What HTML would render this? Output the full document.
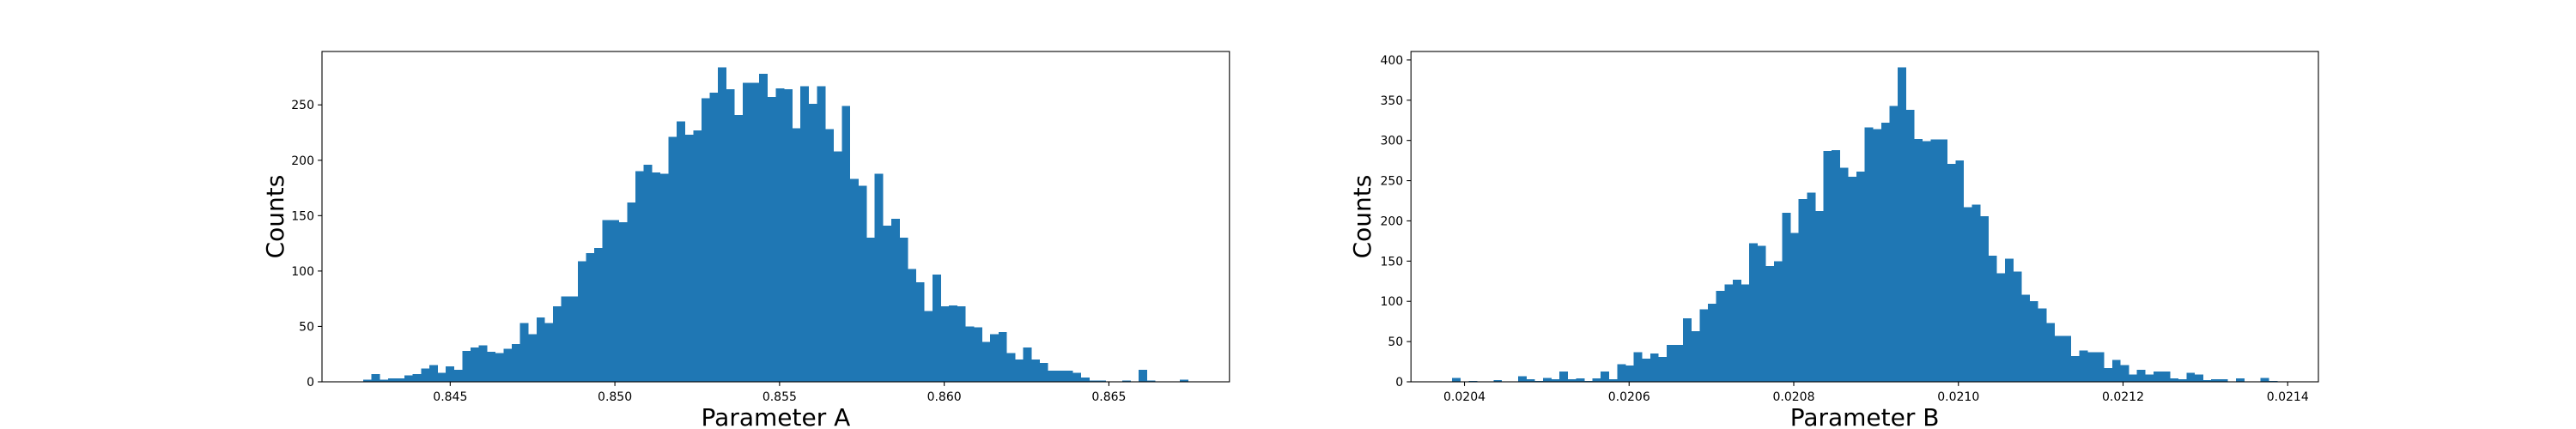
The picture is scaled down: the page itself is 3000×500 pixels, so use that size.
<!DOCTYPE html>
<html><head><meta charset="utf-8"><style>
html,body{margin:0;padding:0;background:#fff;}
svg{display:block;font-family:"DejaVu Sans","Liberation Sans",sans-serif;}
</style></head><body>
<svg id="fig" width="3000" height="500" viewBox="0 0 3000 500" xmlns="http://www.w3.org/2000/svg">
<rect width="3000" height="500" fill="#fff"/>
</svg>
<script>
const countsA = [2,7,2,3,3,6,7,12,15,8,14,11,28,31,33,27,26,30,34,53,43,58,53,68,77,77,109,116,121,146,146,144,162,190,196,189,188,221,235,223,227,256,261,284,264,241,270,270,278,257,265,264,229,267,251,267,228,208,249,183,177,130,188,141,147,130,102,90,64,97,68,69,68,50,49,36,43,45,26,20,31,20,17,10,10,10,8,4,1,1,0,0,1,0,11,1,0,0,0,2];
const rangeA = [0.842359, 0.867408];
const xTicksA = [0.845,0.850,0.855,0.860,0.865];
const xTickLabelsA = ["0.845","0.850","0.855","0.860","0.865"];
const yTicksA = [0,50,100,150,200,250];

const countsB = [5,0,1,0,0,2,0,0,7,3,1,5,3,13,3,4,1,4,13,3,22,20,37,29,35,31,46,46,79,63,90,97,113,121,127,121,172,169,144,150,210,185,227,235,212,287,288,266,255,261,316,314,322,343,391,338,302,299,301,301,271,275,217,220,206,157,135,153,137,108,100,91,73,57,57,32,39,37,37,17,27,21,9,15,9,13,13,4,3,11,9,2,3,3,0,4,0,0,5,1];
const rangeB = [0.0203851, 0.0213872];
const xTicksB = [0.0204,0.0206,0.0208,0.0210,0.0212,0.0214];
const xTickLabelsB = ["0.0204","0.0206","0.0208","0.0210","0.0212","0.0214"];
const yTicksB = [0,50,100,150,200,250,300,350,400];

const NS = "http://www.w3.org/2000/svg";
const svg = document.getElementById('fig');
function mk(tag, attrs, parent){
  const e = document.createElementNS(NS, tag);
  for (const k in attrs) e.setAttribute(k, attrs[k]);
  (parent||svg).appendChild(e);
  return e;
}

function drawHist(cfg){
  const L = cfg.left, R = cfg.right, T = 60, B = 445;
  const counts = cfg.counts;
  const dmin = cfg.range[0], dmax = cfg.range[1];
  const span = dmax - dmin;
  const xmin = dmin - 0.05*span, xmax = dmax + 0.05*span;
  const ymax = Math.max(...counts) * 1.05;
  const xs = v => L + (v - xmin) / (xmax - xmin) * (R - L);
  const ys = v => B - v / ymax * (B - T);

  const g = mk('g', {});
  
  

  const bw = span / counts.length;
  const bars = mk('g', {fill:'#1f77b4', 'shape-rendering':'crispEdges'}, g);
  
  
  counts.forEach((c, i) => {
    if (c <= 0) return;
    const x0 = xs(dmin + i*bw), x1 = xs(dmin + (i+1)*bw);
    const r = mk('rect', {x:x0, y:ys(c), width:x1-x0+0.3, height:B-ys(c)}, bars);
    
    
  });

  const frame = mk('rect', {x:L, y:T, width:R-L, height:B-T, fill:'none', stroke:'#000', 'stroke-width':1.1}, g);
  
  

  cfg.xTicks.forEach((v, i) => {
    const x = xs(v);
    mk('line', {x1:x, x2:x, y1:B, y2:B+4.9, stroke:'#000', 'stroke-width':1.1}, g);
    const t = mk('text', {x:x, y:B+22, 'font-size':14, 'text-anchor':'middle', fill:'#000'}, g);
    t.textContent = cfg.xTickLabels[i];
    
    
  });
  cfg.yTicks.forEach(v => {
    const y = ys(v);
    mk('line', {x1:L-4.9, x2:L, y1:y, y2:y, stroke:'#000', 'stroke-width':1.1}, g);
    const t = mk('text', {x:L-9, y:y+5, 'font-size':14, 'text-anchor':'end', fill:'#000'}, g);
    t.textContent = String(v);
    
    
  });

  const xl = mk('text', {x:(L+R)/2, y:496, 'font-size':28, 'text-anchor':'middle', fill:'#000'}, g);
  xl.textContent = cfg.xlabel;
  
  

  const cx = cfg.ylabelX, cy = (T+B)/2;
  const yl = mk('text', {x:cx, y:cy, 'font-size':28, 'text-anchor':'middle', fill:'#000', transform:'rotate(-90 '+cx+' '+cy+')'}, g);
  yl.textContent = 'Counts';
  
  
}

drawHist({name:'parameter-a', left:375, right:1431.8, counts:countsA, range:rangeA,
  xTicks:xTicksA, xTickLabels:xTickLabelsA, yTicks:yTicksA, xlabel:'Parameter A', ylabelX:330});
drawHist({name:'parameter-b', left:1643.2, right:2700, counts:countsB, range:rangeB,
  xTicks:xTicksB, xTickLabels:xTickLabelsB, yTicks:yTicksB, xlabel:'Parameter B', ylabelX:1596});
</script>
</body></html>
